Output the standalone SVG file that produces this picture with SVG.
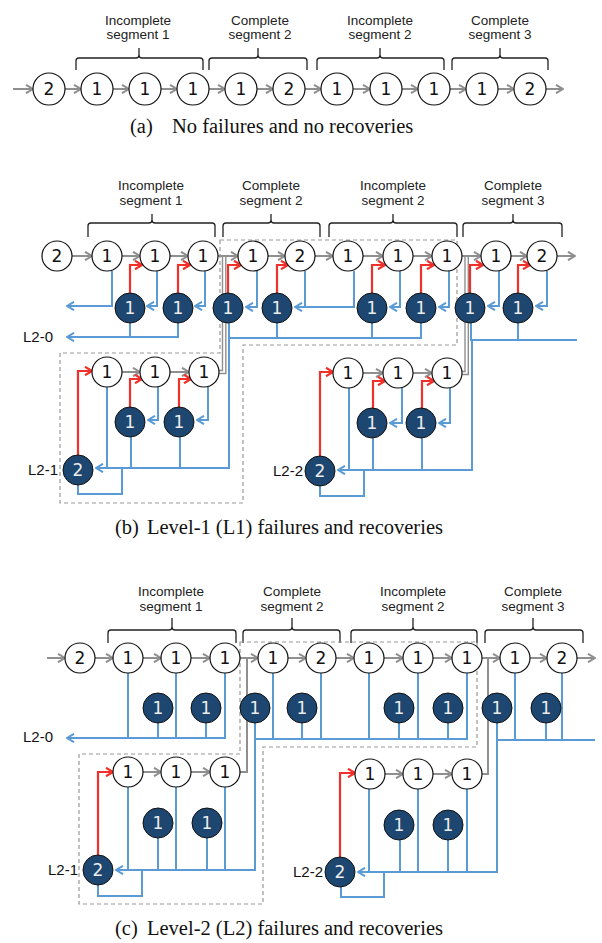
<svg xmlns="http://www.w3.org/2000/svg" width="602" height="943" viewBox="0 0 602 943">
<style>
.n circle{fill:#fff;stroke:#111;stroke-width:1.2}
.d circle{fill:#1d4670;stroke:#111;stroke-width:1}
.n text,.d text{font-family:"DejaVu Sans",sans-serif;font-size:17px;text-anchor:middle}
.n text{fill:#111}
.d text{fill:#ececec}
.g{stroke:#8f8f8f;stroke-width:2;fill:none;marker-end:url(#ag)}
.gl{stroke:#8f8f8f;stroke-width:1.4;fill:none}
.b{stroke:#5b9bd5;stroke-width:2;fill:none}
.ba{stroke:#5b9bd5;stroke-width:2;fill:none;marker-end:url(#ab)}
.r{stroke:#f0302a;stroke-width:2.2;fill:none;marker-end:url(#ar)}
.br{stroke:#222;stroke-width:1.3;fill:none}
.dash{stroke:#999;stroke-width:1.2;fill:none;stroke-dasharray:4 3}
.hd{font-family:"Liberation Sans",Arial,sans-serif;font-size:13.5px;fill:#222;text-anchor:middle}
.lb{font-family:"Liberation Sans",Arial,sans-serif;font-size:15px;fill:#111}
.cap{font-family:"Liberation Serif","Times New Roman",serif;font-size:20.5px;fill:#111}
</style>
<defs>
<marker id="ag" viewBox="0 0 10 10" refX="9" refY="5" markerWidth="10" markerHeight="10" markerUnits="userSpaceOnUse" orient="auto"><path d="M2,0.8 L9,5 L2,9.2" fill="none" stroke="#8f8f8f" stroke-width="2"/></marker>
<marker id="ab" viewBox="0 0 10 10" refX="9" refY="5" markerWidth="10" markerHeight="10" markerUnits="userSpaceOnUse" orient="auto"><path d="M2,0.8 L9,5 L2,9.2" fill="none" stroke="#5b9bd5" stroke-width="2"/></marker>
<marker id="ar" viewBox="0 0 10 10" refX="9" refY="5" markerWidth="10" markerHeight="10" markerUnits="userSpaceOnUse" orient="auto"><path d="M2,0.8 L9,5 L2,9.2" fill="none" stroke="#f0302a" stroke-width="2.2"/></marker>
</defs>

<!-- ===== Panel (a) ===== -->
<g id="a-headers">
<path class="br" d="M76,70 V61 Q76,58 79,58 H136 Q139,58 139,55 V48 M139,55 Q139,58 142,58 H200 Q203,58 203,61 V70"/>
<path class="br" d="M209,70 V61 Q209,58 212,58 H255 Q258,58 258,55 V48 M258,55 Q258,58 261,58 H304 Q307,58 307,61 V70"/>
<path class="br" d="M317,70 V61 Q317,58 320,58 H377 Q380,58 380,55 V48 M380,55 Q380,58 383,58 H441 Q444,58 444,61 V70"/>
<path class="br" d="M452,70 V61 Q452,58 455,58 H497 Q500,58 500,55 V48 M500,55 Q500,58 503,58 H545 Q548,58 548,61 V70"/>
<text class="hd" x="138" y="25">Incomplete</text><text class="hd" x="138" y="39">segment 1</text>
<text class="hd" x="260" y="25">Complete</text><text class="hd" x="260" y="39">segment 2</text>
<text class="hd" x="380" y="25">Incomplete</text><text class="hd" x="380" y="39">segment 2</text>
<text class="hd" x="500" y="25">Complete</text><text class="hd" x="500" y="39">segment 3</text>
</g>
<g id="a-connectors">
<path class="g" d="M13,89 H33"/><path class="g" d="M65,89 H81"/><path class="g" d="M113,89 H129"/><path class="g" d="M161,89 H177"/><path class="g" d="M209,89 H225"/><path class="g" d="M257,89 H273"/><path class="g" d="M305,89 H321"/><path class="g" d="M353,89 H370"/><path class="g" d="M402,89 H418"/><path class="g" d="M450,89 H466"/><path class="g" d="M498,89 H514"/><path class="g" d="M546,89 H563"/>
</g>
<g id="a-n0" class="n"><circle cx="49" cy="89" r="16"/><text x="49" y="95">2</text></g>
<g id="a-n1" class="n"><circle cx="97" cy="89" r="16"/><text x="97" y="95">1</text></g>
<g id="a-n2" class="n"><circle cx="145" cy="89" r="16"/><text x="145" y="95">1</text></g>
<g id="a-n3" class="n"><circle cx="193" cy="89" r="16"/><text x="193" y="95">1</text></g>
<g id="a-n4" class="n"><circle cx="241" cy="89" r="16"/><text x="241" y="95">1</text></g>
<g id="a-n5" class="n"><circle cx="289" cy="89" r="16"/><text x="289" y="95">2</text></g>
<g id="a-n6" class="n"><circle cx="337" cy="89" r="16"/><text x="337" y="95">1</text></g>
<g id="a-n7" class="n"><circle cx="386" cy="89" r="16"/><text x="386" y="95">1</text></g>
<g id="a-n8" class="n"><circle cx="434" cy="89" r="16"/><text x="434" y="95">1</text></g>
<g id="a-n9" class="n"><circle cx="482" cy="89" r="16"/><text x="482" y="95">1</text></g>
<g id="a-n10" class="n"><circle cx="530" cy="89" r="16"/><text x="530" y="95">2</text></g>
<text class="cap" y="133"><tspan x="130">(a)</tspan><tspan x="172">No failures and no recoveries</tspan></text>

<!-- ===== Panel (b) ===== -->
<g id="b-headers">
<path class="br" d="M88,237 V226 Q88,223 91,223 H149 Q152,223 152,220 V214 M152,220 Q152,223 155,223 H212 Q215,223 215,226 V237"/>
<path class="br" d="M223,237 V226 Q223,223 226,223 H268 Q271,223 271,220 V214 M271,220 Q271,223 274,223 H317 Q320,223 320,226 V237"/>
<path class="br" d="M329,237 V226 Q329,223 332,223 H390 Q393,223 393,220 V214 M393,220 Q393,223 396,223 H454 Q457,223 457,226 V237"/>
<path class="br" d="M463,237 V226 Q463,223 466,223 H510 Q513,223 513,220 V214 M513,220 Q513,223 516,223 H559 Q562,223 562,226 V237"/>
<text class="hd" x="151" y="190">Incomplete</text><text class="hd" x="151" y="205">segment 1</text>
<text class="hd" x="271" y="190">Complete</text><text class="hd" x="271" y="205">segment 2</text>
<text class="hd" x="393" y="190">Incomplete</text><text class="hd" x="393" y="205">segment 2</text>
<text class="hd" x="513" y="190">Complete</text><text class="hd" x="513" y="205">segment 3</text>
</g>
<path id="b-failbox" class="dash" d="M220,240 H457 V345 H243 V503 H60 V353 H220 Z"/>
<g id="b-connectors">
<!-- main row -->
<path class="g" d="M72,256 H92"/><path class="g" d="M122,256 H140"/><path class="g" d="M170,256 H188"/><path class="g" d="M218,256 H238"/><path class="g" d="M268,256 H285"/><path class="g" d="M315,256 H333"/><path class="g" d="M363,256 H383"/><path class="g" d="M413,256 H432"/><path class="g" d="M462,256 H481"/><path class="g" d="M511,256 H527"/><path class="g" d="M557,256 H575"/>
<path class="gl" d="M219,370.5 H222.5 V256"/><path class="gl" d="M219,373.5 H225.8 V256"/>
<path class="gl" d="M462,371.5 H465 V256"/><path class="gl" d="M462,374.5 H468.3 V256"/>
<!-- group 1 -->
<path class="r" d="M130,293 V265 H142"/><path class="r" d="M178,293 V265 H190"/>
<path class="ba" d="M112,271 V306 H67"/><path class="ba" d="M157,271 V306 H147"/><path class="ba" d="M205,271 V306 H195"/>
<path class="b" d="M130,323 V337"/><path class="ba" d="M178,323 V337 H67"/>
<!-- group 2 -->
<path class="r" d="M228,293 V265 H241"/><path class="r" d="M277,293 V265 H288"/><path class="r" d="M372,293 V265 H385"/><path class="r" d="M421,293 V265 H434"/>
<path class="ba" d="M257,271 V307 H246"/><path class="b" d="M305,271 V307"/><path class="ba" d="M354,271 V307 H295"/><path class="ba" d="M400,271 V307 H390"/><path class="ba" d="M449,271 V307 H439"/>
<path class="b" d="M277,323 V338"/><path class="b" d="M372,323 V338"/><path class="b" d="M421,323 V338 H229"/>
<path class="ba" d="M229,323 V468 H96"/>
<!-- group 3 -->
<path class="r" d="M470,293 V265 H483"/><path class="r" d="M518,293 V265 H530"/>
<path class="ba" d="M499,271 V306 H488"/><path class="ba" d="M547,271 V306 H536"/>
<path class="b" d="M518,323 V340"/><path class="ba" d="M577,340 H472 V470 H338"/><path class="b" d="M471,323 V341"/>
<!-- L2-1 -->
<path class="g" d="M122,372 H140"/><path class="g" d="M170,372 H189"/>
<path class="r" d="M78,455 V371 H92"/><path class="r" d="M130,407 V379 H142"/><path class="r" d="M179,407 V379 H191"/>
<path class="ba" d="M158,387 V420 H148"/><path class="ba" d="M208,387 V420 H197"/>
<path class="b" d="M107,387 V468"/><path class="b" d="M131,437 V468"/><path class="b" d="M180,437 V468"/>
<path class="b" d="M78,485 V494 H122 V468"/>
<!-- L2-2 -->
<path class="g" d="M363,373 H383"/><path class="g" d="M413,373 H432"/>
<path class="r" d="M320,456 V372 H333"/><path class="r" d="M373,408 V381 H385"/><path class="r" d="M422,408 V381 H434"/>
<path class="ba" d="M402,388 V423 H390"/><path class="ba" d="M450,388 V423 H439"/>
<path class="b" d="M349,388 V470"/><path class="b" d="M373,438 V470"/><path class="b" d="M422,438 V470"/>
<path class="b" d="M320,486 V496 H364 V470"/>
</g>
<g id="b-m0" class="n"><circle cx="57" cy="256" r="15"/><text x="57" y="262">2</text></g>
<g id="b-m1" class="n"><circle cx="107" cy="256" r="15"/><text x="107" y="262">1</text></g>
<g id="b-m2" class="n"><circle cx="155" cy="256" r="15"/><text x="155" y="262">1</text></g>
<g id="b-m3" class="n"><circle cx="203" cy="256" r="15"/><text x="203" y="262">1</text></g>
<g id="b-m4" class="n"><circle cx="253" cy="256" r="15"/><text x="253" y="262">1</text></g>
<g id="b-m5" class="n"><circle cx="300" cy="256" r="15"/><text x="300" y="262">2</text></g>
<g id="b-m6" class="n"><circle cx="348" cy="256" r="15"/><text x="348" y="262">1</text></g>
<g id="b-m7" class="n"><circle cx="398" cy="256" r="15"/><text x="398" y="262">1</text></g>
<g id="b-m8" class="n"><circle cx="447" cy="256" r="15"/><text x="447" y="262">1</text></g>
<g id="b-m9" class="n"><circle cx="496" cy="256" r="15"/><text x="496" y="262">1</text></g>
<g id="b-m10" class="n"><circle cx="542" cy="256" r="15"/><text x="542" y="262">2</text></g>
<g id="b-d1" class="d"><circle cx="130" cy="308" r="15"/><text x="130" y="314">1</text></g>
<g id="b-d2" class="d"><circle cx="178" cy="308" r="15"/><text x="178" y="314">1</text></g>
<g id="b-d3" class="d"><circle cx="228" cy="308" r="15"/><text x="228" y="314">1</text></g>
<g id="b-d4" class="d"><circle cx="277" cy="308" r="15"/><text x="277" y="314">1</text></g>
<g id="b-d5" class="d"><circle cx="372" cy="308" r="15"/><text x="372" y="314">1</text></g>
<g id="b-d6" class="d"><circle cx="421" cy="308" r="15"/><text x="421" y="314">1</text></g>
<g id="b-d7" class="d"><circle cx="470" cy="308" r="15"/><text x="470" y="314">1</text></g>
<g id="b-d8" class="d"><circle cx="518" cy="308" r="15"/><text x="518" y="314">1</text></g>
<g id="b-l21-n1" class="n"><circle cx="107" cy="372" r="15"/><text x="107" y="378">1</text></g>
<g id="b-l21-n2" class="n"><circle cx="155" cy="372" r="15"/><text x="155" y="378">1</text></g>
<g id="b-l21-n3" class="n"><circle cx="204" cy="372" r="15"/><text x="204" y="378">1</text></g>
<g id="b-l21-d1" class="d"><circle cx="130" cy="422" r="15"/><text x="130" y="428">1</text></g>
<g id="b-l21-d2" class="d"><circle cx="179" cy="422" r="15"/><text x="179" y="428">1</text></g>
<g id="b-l21-s" class="d"><circle cx="78" cy="470" r="15"/><text x="78" y="476">2</text></g>
<g id="b-l22-n1" class="n"><circle cx="348" cy="373" r="15"/><text x="348" y="379">1</text></g>
<g id="b-l22-n2" class="n"><circle cx="398" cy="373" r="15"/><text x="398" y="379">1</text></g>
<g id="b-l22-n3" class="n"><circle cx="447" cy="373" r="15"/><text x="447" y="379">1</text></g>
<g id="b-l22-d1" class="d"><circle cx="372" cy="423" r="15"/><text x="372" y="429">1</text></g>
<g id="b-l22-d2" class="d"><circle cx="421" cy="423" r="15"/><text x="421" y="429">1</text></g>
<g id="b-l22-s" class="d"><circle cx="320" cy="471" r="15"/><text x="320" y="477">2</text></g>
<text class="lb" x="23" y="342">L2-0</text>
<text class="lb" x="58" y="475" text-anchor="end">L2-1</text>
<text class="lb" x="303" y="476" text-anchor="end">L2-2</text>
<text class="cap" y="534"><tspan x="115">(b)</tspan><tspan x="147">Level-1 (L1) failures and recoveries</tspan></text>

<!-- ===== Panel (c) ===== -->
<g id="c-headers">
<path class="br" d="M108,643 V633 Q108,630 111,630 H169 Q172,630 172,627 V618 M172,627 Q172,630 175,630 H233 Q236,630 236,633 V643"/>
<path class="br" d="M243,643 V633 Q243,630 246,630 H289 Q292,630 292,627 V618 M292,627 Q292,630 295,630 H337 Q340,630 340,633 V643"/>
<path class="br" d="M351,643 V633 Q351,630 354,630 H410 Q413,630 413,627 V618 M413,627 Q413,630 416,630 H474 Q477,630 477,633 V643"/>
<path class="br" d="M485,643 V633 Q485,630 488,630 H530 Q533,630 533,627 V618 M533,627 Q533,630 536,630 H580 Q583,630 583,633 V643"/>
<text class="hd" x="171" y="596">Incomplete</text><text class="hd" x="171" y="611">segment 1</text>
<text class="hd" x="292" y="596">Complete</text><text class="hd" x="292" y="611">segment 2</text>
<text class="hd" x="413" y="596">Incomplete</text><text class="hd" x="413" y="611">segment 2</text>
<text class="hd" x="533" y="596">Complete</text><text class="hd" x="533" y="611">segment 3</text>
</g>
<path id="c-failbox" class="dash" d="M240,642 H477 V747 H263 V904 H79 V754 H240 Z"/>
<g id="c-connectors">
<path class="g" d="M47,658 H65"/><path class="g" d="M95,658 H113"/><path class="g" d="M143,658 H161"/><path class="g" d="M191,658 H210"/><path class="g" d="M240,658 H258"/><path class="g" d="M288,658 H306"/><path class="g" d="M336,658 H354"/><path class="g" d="M384,658 H403"/><path class="g" d="M433,658 H452"/><path class="g" d="M482,658 H500"/><path class="g" d="M530,658 H547"/><path class="g" d="M577,658 H595"/>
<path class="gl" style="stroke-width:2" d="M240,772 H247 V658"/><path class="gl" style="stroke-width:2" d="M482,774 H488 V658"/>
<!-- group 1 -->
<path class="b" d="M128,673 V738"/><path class="b" d="M176,673 V738"/><path class="b" d="M158,723 V738"/><path class="b" d="M206,723 V738"/><path class="ba" d="M225,673 V738 H67"/>
<!-- group 2 -->
<path class="b" d="M467,673 V739 H255"/><path class="b" d="M273,673 V739"/><path class="b" d="M302,723 V739"/><path class="b" d="M321,673 V739"/><path class="b" d="M369,673 V739"/><path class="b" d="M399,723 V739"/><path class="b" d="M418,673 V739"/><path class="b" d="M448,723 V739"/>
<path class="ba" d="M255,723 V870 H116"/>
<!-- group 3 -->
<path class="ba" d="M595,740 H497 V872 H358"/><path class="b" d="M497,723 V741"/><path class="b" d="M515,673 V740"/><path class="b" d="M546,723 V740"/><path class="b" d="M562,673 V740"/>
<!-- L2-1 -->
<path class="g" d="M143,772 H161"/><path class="g" d="M191,772 H210"/>
<path class="r" d="M98,855 V772 H113"/>
<path class="b" d="M128,787 V870"/><path class="b" d="M176,787 V870"/><path class="b" d="M225,787 V870"/><path class="b" d="M158,838 V870"/><path class="b" d="M207,838 V870"/>
<path class="b" d="M98,885 V896 H142 V870"/>
<!-- L2-2 -->
<path class="g" d="M385,774 H403"/><path class="g" d="M433,774 H452"/>
<path class="r" d="M340,857 V773 H355"/>
<path class="b" d="M369,789 V872"/><path class="b" d="M418,789 V872"/><path class="b" d="M467,789 V872"/><path class="b" d="M400,840 V872"/><path class="b" d="M448,840 V872"/>
<path class="b" d="M341,887 V897 H384 V872"/>
</g>
<g id="c-m0" class="n"><circle cx="80" cy="658" r="15"/><text x="80" y="664">2</text></g>
<g id="c-m1" class="n"><circle cx="128" cy="658" r="15"/><text x="128" y="664">1</text></g>
<g id="c-m2" class="n"><circle cx="176" cy="658" r="15"/><text x="176" y="664">1</text></g>
<g id="c-m3" class="n"><circle cx="225" cy="658" r="15"/><text x="225" y="664">1</text></g>
<g id="c-m4" class="n"><circle cx="273" cy="658" r="15"/><text x="273" y="664">1</text></g>
<g id="c-m5" class="n"><circle cx="321" cy="658" r="15"/><text x="321" y="664">2</text></g>
<g id="c-m6" class="n"><circle cx="369" cy="658" r="15"/><text x="369" y="664">1</text></g>
<g id="c-m7" class="n"><circle cx="418" cy="658" r="15"/><text x="418" y="664">1</text></g>
<g id="c-m8" class="n"><circle cx="467" cy="658" r="15"/><text x="467" y="664">1</text></g>
<g id="c-m9" class="n"><circle cx="515" cy="658" r="15"/><text x="515" y="664">1</text></g>
<g id="c-m10" class="n"><circle cx="562" cy="658" r="15"/><text x="562" y="664">2</text></g>
<g id="c-d1" class="d"><circle cx="158" cy="708" r="15"/><text x="158" y="714">1</text></g>
<g id="c-d2" class="d"><circle cx="206" cy="708" r="15"/><text x="206" y="714">1</text></g>
<g id="c-d3" class="d"><circle cx="255" cy="708" r="15"/><text x="255" y="714">1</text></g>
<g id="c-d4" class="d"><circle cx="302" cy="708" r="15"/><text x="302" y="714">1</text></g>
<g id="c-d5" class="d"><circle cx="399" cy="708" r="15"/><text x="399" y="714">1</text></g>
<g id="c-d6" class="d"><circle cx="448" cy="708" r="15"/><text x="448" y="714">1</text></g>
<g id="c-d7" class="d"><circle cx="497" cy="708" r="15"/><text x="497" y="714">1</text></g>
<g id="c-d8" class="d"><circle cx="546" cy="708" r="15"/><text x="546" y="714">1</text></g>
<g id="c-l21-n1" class="n"><circle cx="128" cy="772" r="15"/><text x="128" y="778">1</text></g>
<g id="c-l21-n2" class="n"><circle cx="176" cy="772" r="15"/><text x="176" y="778">1</text></g>
<g id="c-l21-n3" class="n"><circle cx="225" cy="772" r="15"/><text x="225" y="778">1</text></g>
<g id="c-l21-d1" class="d"><circle cx="158" cy="823" r="15"/><text x="158" y="829">1</text></g>
<g id="c-l21-d2" class="d"><circle cx="207" cy="823" r="15"/><text x="207" y="829">1</text></g>
<g id="c-l21-s" class="d"><circle cx="98" cy="870" r="15"/><text x="98" y="876">2</text></g>
<g id="c-l22-n1" class="n"><circle cx="370" cy="774" r="15"/><text x="370" y="780">1</text></g>
<g id="c-l22-n2" class="n"><circle cx="418" cy="774" r="15"/><text x="418" y="780">1</text></g>
<g id="c-l22-n3" class="n"><circle cx="467" cy="774" r="15"/><text x="467" y="780">1</text></g>
<g id="c-l22-d1" class="d"><circle cx="399" cy="825" r="15"/><text x="399" y="831">1</text></g>
<g id="c-l22-d2" class="d"><circle cx="448" cy="825" r="15"/><text x="448" y="831">1</text></g>
<g id="c-l22-s" class="d"><circle cx="340" cy="872" r="15"/><text x="340" y="878">2</text></g>
<text class="lb" x="23" y="742">L2-0</text>
<text class="lb" x="78" y="875" text-anchor="end">L2-1</text>
<text class="lb" x="323" y="877" text-anchor="end">L2-2</text>
<text class="cap" y="935"><tspan x="115">(c)</tspan><tspan x="147">Level-2 (L2) failures and recoveries</tspan></text>
</svg>
